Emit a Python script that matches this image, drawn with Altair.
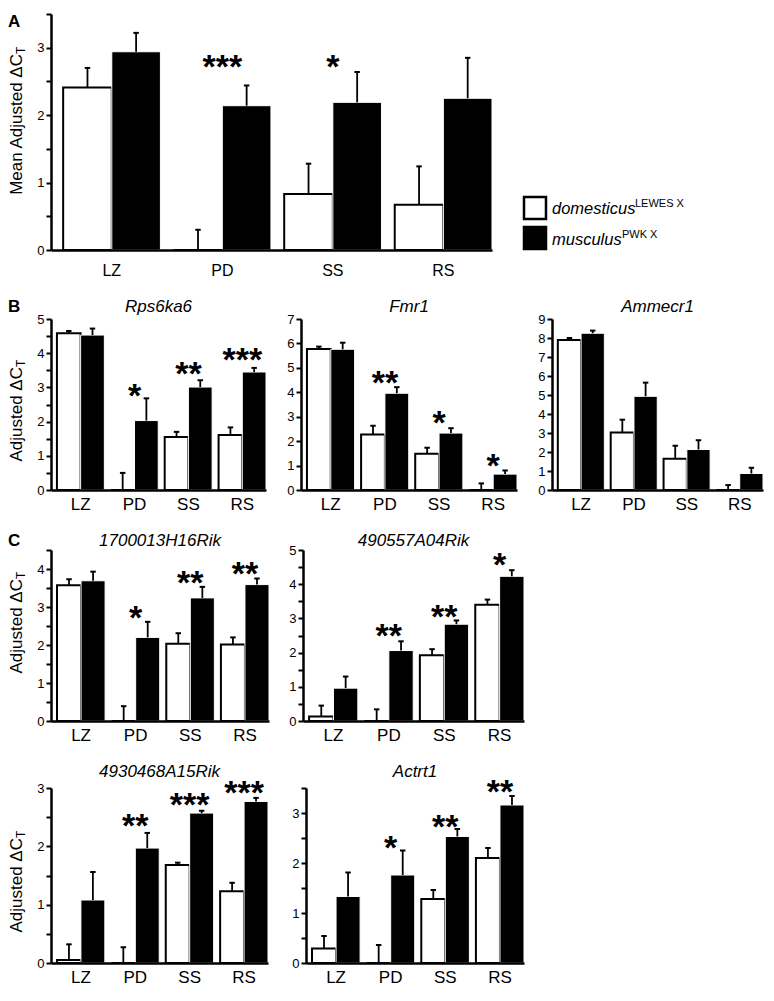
import altair as alt
import pandas as pd

FONT = "Liberation Sans"

stages = ["LZ", "PD", "SS", "RS"]
groups = ["domesticus", "musculus"]
group_super = ["LEWES X", "PWK X"]

# ---- Panel A: mean adjusted dCT ----
mean_dom = [2.41, 0.0, 0.83, 0.67]
mean_dom_hi = [2.70, 0.30, 1.28, 1.24]
mean_mus = [2.94, 2.14, 2.19, 2.25]
mean_mus_hi = [3.22, 2.44, 2.64, 2.85]
mean_sig = ["", "***", "*", ""]
mean_sig_y = [0, 2.77, 2.77, 0]

# ---- Panel B ----
rps_dom = [4.58, 0.0, 1.55, 1.61]
rps_dom_hi = [4.65, 0.50, 1.70, 1.83]
rps_mus = [4.53, 2.03, 3.01, 3.45]
rps_mus_hi = [4.72, 2.68, 3.21, 3.57]
rps_sig = ["", "*", "**", "***"]
rps_sig_y = [0, 2.88, 3.50, 3.91]

fmr_dom = [5.77, 2.27, 1.48, 0.0]
fmr_dom_hi = [5.87, 2.63, 1.73, 0.27]
fmr_mus = [5.76, 3.96, 2.33, 0.65]
fmr_mus_hi = [6.03, 4.21, 2.53, 0.80]
fmr_sig = ["", "**", "*", "*"]
fmr_sig_y = [0, 4.56, 2.90, 1.16]

amm_dom = [7.90, 3.02, 1.64, 0.0]
amm_dom_hi = [8.00, 3.70, 2.33, 0.26]
amm_mus = [8.25, 4.93, 2.13, 0.87]
amm_mus_hi = [8.39, 5.65, 2.62, 1.17]
amm_sig = ["", "", "", ""]
amm_sig_y = [0, 0, 0, 0]

# ---- Panel C ----
r17_dom = [3.57, 0.0, 2.03, 2.01]
r17_dom_hi = [3.73, 0.39, 2.31, 2.20]
r17_mus = [3.69, 2.20, 3.24, 3.59]
r17_mus_hi = [3.93, 2.61, 3.53, 3.75]
r17_sig = ["", "*", "**", "**"]
r17_sig_y = [0, 2.81, 3.73, 3.98]

r49_dom = [0.13, 0.0, 1.92, 3.40]
r49_dom_hi = [0.45, 0.34, 2.10, 3.55]
r49_mus = [0.96, 2.06, 2.83, 4.23]
r49_mus_hi = [1.30, 2.33, 2.94, 4.41]
r49_sig = ["", "**", "**", "*"]
r49_sig_y = [0, 2.60, 3.17, 4.68]

r4930_dom = [0.05, 0.0, 1.68, 1.23]
r4930_dom_hi = [0.32, 0.27, 1.72, 1.375]
r4930_mus = [1.08, 1.97, 2.57, 2.77]
r4930_mus_hi = [1.56, 2.23, 2.61, 2.83]
r4930_sig = ["", "**", "***", "***"]
r4930_sig_y = [0, 2.41, 2.78, 2.98]

act_dom = [0.29, 0.0, 1.28, 2.10]
act_dom_hi = [0.54, 0.36, 1.46, 2.30]
act_mus = [1.33, 1.76, 2.53, 3.16]
act_mus_hi = [1.81, 2.25, 2.68, 3.34]
act_sig = ["", "*", "**", "**"]
act_sig_y = [0, 2.38, 2.81, 3.50]

P_INNER = 0.12
P_OUTER = 0.055


def text_layer(txt, x, y, **kw):
    return alt.Chart(pd.DataFrame({"t": [txt]})).mark_text(
        font=FONT, color="black", **kw
    ).encode(x=alt.value(x), y=alt.value(y), text="t:N")


def panel(dom, dom_hi, mus, mus_hi, sig, sig_y, ymax, minor, width, height,
          gene=None, gene_y=-7, xlab_size=17, xlab_pad=6,
          ytitle=None, ytitle_end=None, letter=None, letter_y=None, extra=None):
    df = pd.DataFrame({
        "stage": stages * 2,
        "group": [groups[0]] * 4 + [groups[1]] * 4,
        "value": dom + mus,
        "hi": dom_hi + mus_hi,
    })
    sdf = pd.DataFrame({"stage": stages, "sig": sig, "y": sig_y})
    sdf = sdf[sdf["sig"] != ""]
    step = 0.5 if minor else 1.0
    n = int(round(ymax / step))
    vals = [round(i * step, 2) for i in range(n + 1)]

    xs = alt.Scale(type="band", domain=stages, paddingInner=P_INNER, paddingOuter=P_OUTER, align=1)
    ys = alt.Scale(domain=[0, ymax], nice=False, zero=True)
    xos = alt.Scale(type="band", domain=groups, paddingInner=0, paddingOuter=0)
    xaxis = alt.Axis(title=None, labelFont=FONT, labelFontSize=xlab_size, labelColor="black",
                     labelPadding=xlab_pad, ticks=False, tickSize=0, domainColor="black",
                     domainWidth=2.5, labelAngle=0, zindex=1)
    yaxis = alt.Axis(title=None, values=vals, labelOverlap=False,
                     labelExpr="datum.value % 1 == 0 ? format(datum.value, 'd') : ''",
                     labelFont=FONT, labelFontSize=13, labelColor="black", labelPadding=2,
                     tickSize=5, tickWidth=2, tickColor="black", domainColor="black",
                     domainWidth=2.5, grid=False, zindex=1)

    X = alt.X("stage:N", scale=xs, axis=xaxis, sort=stages)
    XO = alt.XOffset("group:N", scale=xos, sort=groups)

    bars = alt.Chart(df).mark_bar().encode(
        x=X, xOffset=XO,
        y=alt.Y("value:Q", scale=ys, axis=yaxis),
        fill=alt.Fill("group:N", scale=alt.Scale(domain=groups, range=["white", "black"]), legend=None),
        stroke=alt.Stroke("group:N", scale=alt.Scale(domain=groups, range=["black", "white"]), legend=None),
        strokeWidth=alt.StrokeWidth("group:N", scale=alt.Scale(domain=groups, range=[2, 1]), legend=None),
    )
    rules = alt.Chart(df).mark_rule(color="black", strokeWidth=1.8).encode(
        x=X, xOffset=XO, y=alt.Y("value:Q", scale=ys, axis=yaxis), y2="hi:Q"
    )
    caps = alt.Chart(df).mark_point(
        shape="M -1 0 L 1 0", size=30, stroke="black", strokeWidth=2, filled=False, opacity=1
    ).encode(x=X, xOffset=XO, y=alt.Y("hi:Q", scale=ys, axis=yaxis))
    layers = [bars, rules, caps]
    if len(sdf):
        layers.append(alt.Chart(sdf).mark_text(
            font=FONT, fontSize=34, fontWeight="bold", baseline="alphabetic", dy=15, color="black"
        ).encode(x=X, y=alt.Y("y:Q", scale=ys, axis=yaxis), text="sig:N"))
    if gene:
        layers.append(text_layer(gene, width / 2, gene_y, fontSize=17, fontStyle="italic",
                                 baseline="alphabetic", align="center"))
    if ytitle:
        layers.append(text_layer(ytitle, -34, ytitle_end, fontSize=17, angle=270,
                                 align="right", baseline="middle"))
        layers.append(text_layer("T", -34, ytitle_end, fontSize=12, angle=270,
                                 align="left", baseline="middle", dy=4))
    if letter:
        layers.append(text_layer(letter, -43, letter_y, fontSize=17, fontWeight="bold",
                                 align="left", baseline="alphabetic"))
    if extra:
        layers.extend(extra)
    return alt.layer(*layers).properties(width=width, height=height)


# legend for panel A (placed to the right of its plot)
legend_layers = []
sup_dx = [83, 70]
for i, g in enumerate(groups):
    legend_layers.append(
        alt.Chart(pd.DataFrame({"g": [g]})).mark_square(
            size=484, stroke="black", strokeWidth=2.5, opacity=1,
            fill="white" if i == 0 else "black"
        ).encode(x=alt.value(484), y=alt.value(194 + 30 * i))
    )
    legend_layers.append(text_layer(g, 501, 200 + 31 * i, fontSize=16.5, fontStyle="italic",
                                    align="left", baseline="alphabetic"))
    legend_layers.append(text_layer(group_super[i], 501 + sup_dx[i], 193 + 31 * i, fontSize=11,
                                    align="left", baseline="alphabetic"))

A = panel(mean_dom, mean_dom_hi, mean_mus, mean_mus_hi, mean_sig, mean_sig_y, 3.5, True,
          441, 236, xlab_size=16, xlab_pad=12,
          ytitle="Mean Adjusted \u0394C", ytitle_end=40, letter="A", letter_y=13,
          extra=legend_layers)

B1 = panel(rps_dom, rps_dom_hi, rps_mus, rps_mus_hi, rps_sig, rps_sig_y, 5, True, 215, 171,
           gene="Rps6ka6", ytitle="Adjusted \u0394C", ytitle_end=48, letter="B", letter_y=-7)
B2 = panel(fmr_dom, fmr_dom_hi, fmr_mus, fmr_mus_hi, fmr_sig, fmr_sig_y, 7, False, 216, 171,
           gene="Fmr1")
B3 = panel(amm_dom, amm_dom_hi, amm_mus, amm_mus_hi, amm_sig, amm_sig_y, 9, False, 211, 171,
           gene="Ammecr1")

C1 = panel(r17_dom, r17_dom_hi, r17_mus, r17_mus_hi, r17_sig, r17_sig_y, 4.5, True, 218, 171,
           gene="1700013H16Rik", gene_y=-4, ytitle="Adjusted \u0394C", ytitle_end=29,
           letter="C", letter_y=-4)
C2 = panel(r49_dom, r49_dom_hi, r49_mus, r49_mus_hi, r49_sig, r49_sig_y, 5, True, 221, 171,
           gene="490557A04Rik", gene_y=-4)

C3 = panel(r4930_dom, r4930_dom_hi, r4930_mus, r4930_mus_hi, r4930_sig, r4930_sig_y, 3, True,
           217, 175, gene="4930468A15Rik", gene_y=-11, ytitle="Adjusted \u0394C",
           ytitle_end=50)
C4 = panel(act_dom, act_dom_hi, act_mus, act_mus_hi, act_sig, act_sig_y, 3.5, True, 218, 175,
           gene="Actrt1", gene_y=-11)


def row(*charts, spacing=12):
    return alt.hconcat(*charts, spacing=spacing).resolve_scale(xOffset="independent")


chart = alt.vconcat(
    row(A),
    row(B1, B2, B3, spacing=19),
    row(C1, C2, spacing=18),
    row(C3, C4, spacing=22),
    spacing=20,
).resolve_scale(xOffset="independent").properties(padding=0).configure_view(stroke=None)

chart.save("out.html", embed_options={"renderer": "svg", "actions": False})
